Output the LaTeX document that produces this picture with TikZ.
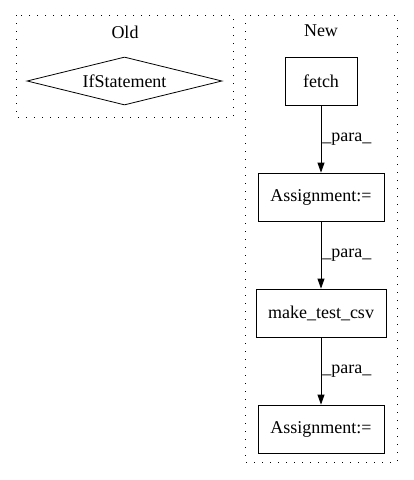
\documentclass[tikz,border=0pt]{standalone}
\usepackage{fontspec}
\setmainfont{Liberation Serif}
\usetikzlibrary{shapes.geometric,arrows.meta,positioning}

\begin{document}
\begin{tikzpicture}[x=1pt,y=-1pt,
    txt/.style={font=\fontsize{18}{20}\selectfont},
    box/.style={txt, draw, line width=0.8pt, minimum height=48pt, inner sep=0pt},
    cluster/.style={draw, line width=0.8pt, dash pattern=on 1.2pt off 6.8pt},
    flow/.style={-{Triangle[length=10pt,width=7pt]}, line width=0.8pt},
    para/.style={txt, right, inner sep=1pt}]
    \useasboundingbox (0,0) rectangle (413,480);

    % Draw the two clusters
    \draw[cluster] (16,15) rectangle (233,117);
    \node[txt] (old) at (125,32) {Old};
    \draw[cluster] (245,15) rectangle (397,462);
    \node[txt] (new) at (321,31) {New};

    % Old side
    \node[txt, draw, diamond, aspect=4.06, line width=0.8pt, inner sep=0pt,
          minimum width=195pt, minimum height=48pt] (ifstmt) at (124.5,81) {IfStatement};

    % New side
    \node[box, minimum width=72pt] (fetch) at (321,81) {fetch};
    \node[box, minimum width=126pt] (assign1) at (321,197) {Assignment:=};
    \node[box, minimum width=130pt] (maketest) at (321,313) {make\_test\_csv};
    \node[box, minimum width=126pt] (assign2) at (321,429) {Assignment:=};

    % Edges between the calls
    \foreach \a/\b in {fetch/assign1, assign1/maketest, maketest/assign2} {
        \draw[flow] (\a) -- (\b) node[para, midway] {\_para\_};
    }
\end{tikzpicture}
\end{document}
